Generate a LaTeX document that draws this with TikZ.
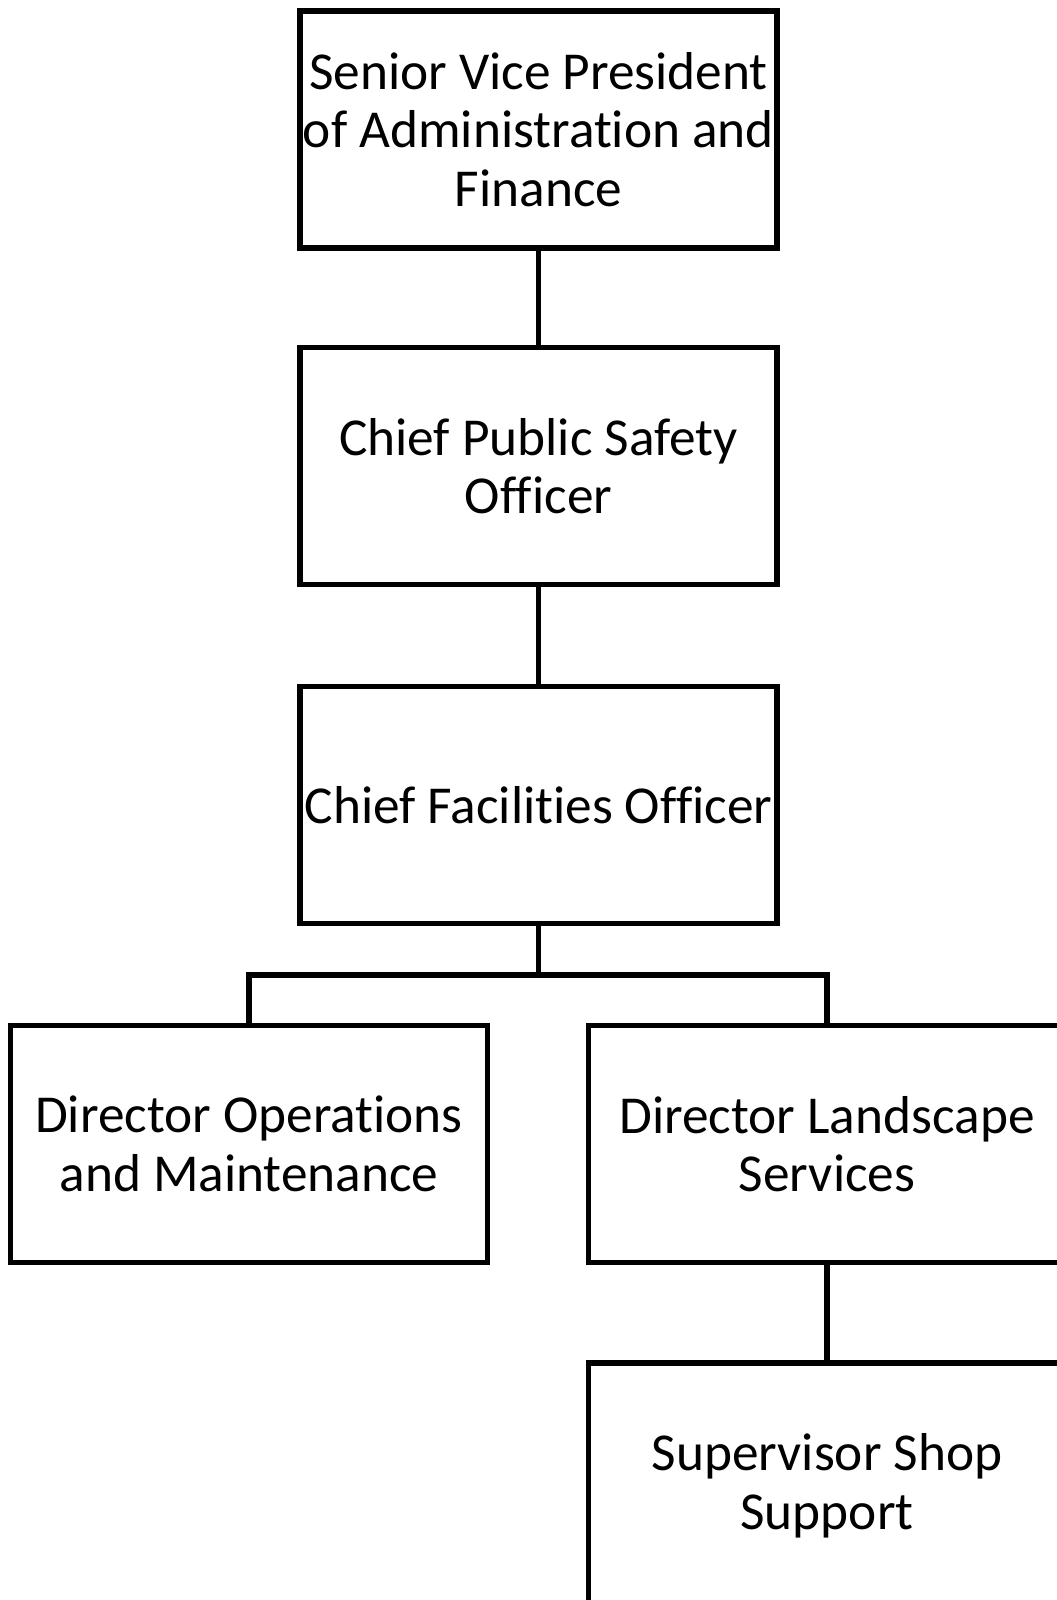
\documentclass[tikz,border=0pt]{standalone}
\usepackage{fontspec}
\setmainfont{Carlito}[Ligatures=NoCommon]
\usepackage{tikz}

\begin{document}
\begin{tikzpicture}[x=0.75pt,y=-0.75pt]
    \tikzstyle{post}=[draw, rectangle, line width=3.8pt, align=center,
        minimum width=357.75pt, minimum height=177.75pt, inner sep=0pt,
        font=\fontsize{40}{43.9}\selectfont]
    \tikzstyle{link}=[line width=3.8pt]
\useasboundingbox (0,0) rectangle (1057,1600);
\clip (0,0) rectangle (1057,1600);

\node[post] (svp) at (538.5,129.5) {Senior Vice President\\of Administration and\\Finance};
\node[post] (cpso) at (538.5,466) {Chief Public Safety\\Officer};
\node[post] (cfo) at (538.5,805) {Chief Facilities Officer};
\node[post] (dom) at (249,1144) {Director Operations\\and Maintenance};
\node[post] (dls) at (827,1144) {Director Landscape\\Services};
\node[post, minimum height=184.5pt] (sss) at (827,1486) {Supervisor Shop\\Support};

\coordinate (bus) at (538.5,975);

\draw[link] (svp) -- (cpso);
\draw[link] (cpso) -- (cfo);
\draw[link] (cfo) -- (bus);
\draw[link] (bus) -| (dom.north);
\draw[link] (bus) -| (dls.north);
\draw[link] (dls) -- (sss);
    ;
\end{tikzpicture}
\end{document}
